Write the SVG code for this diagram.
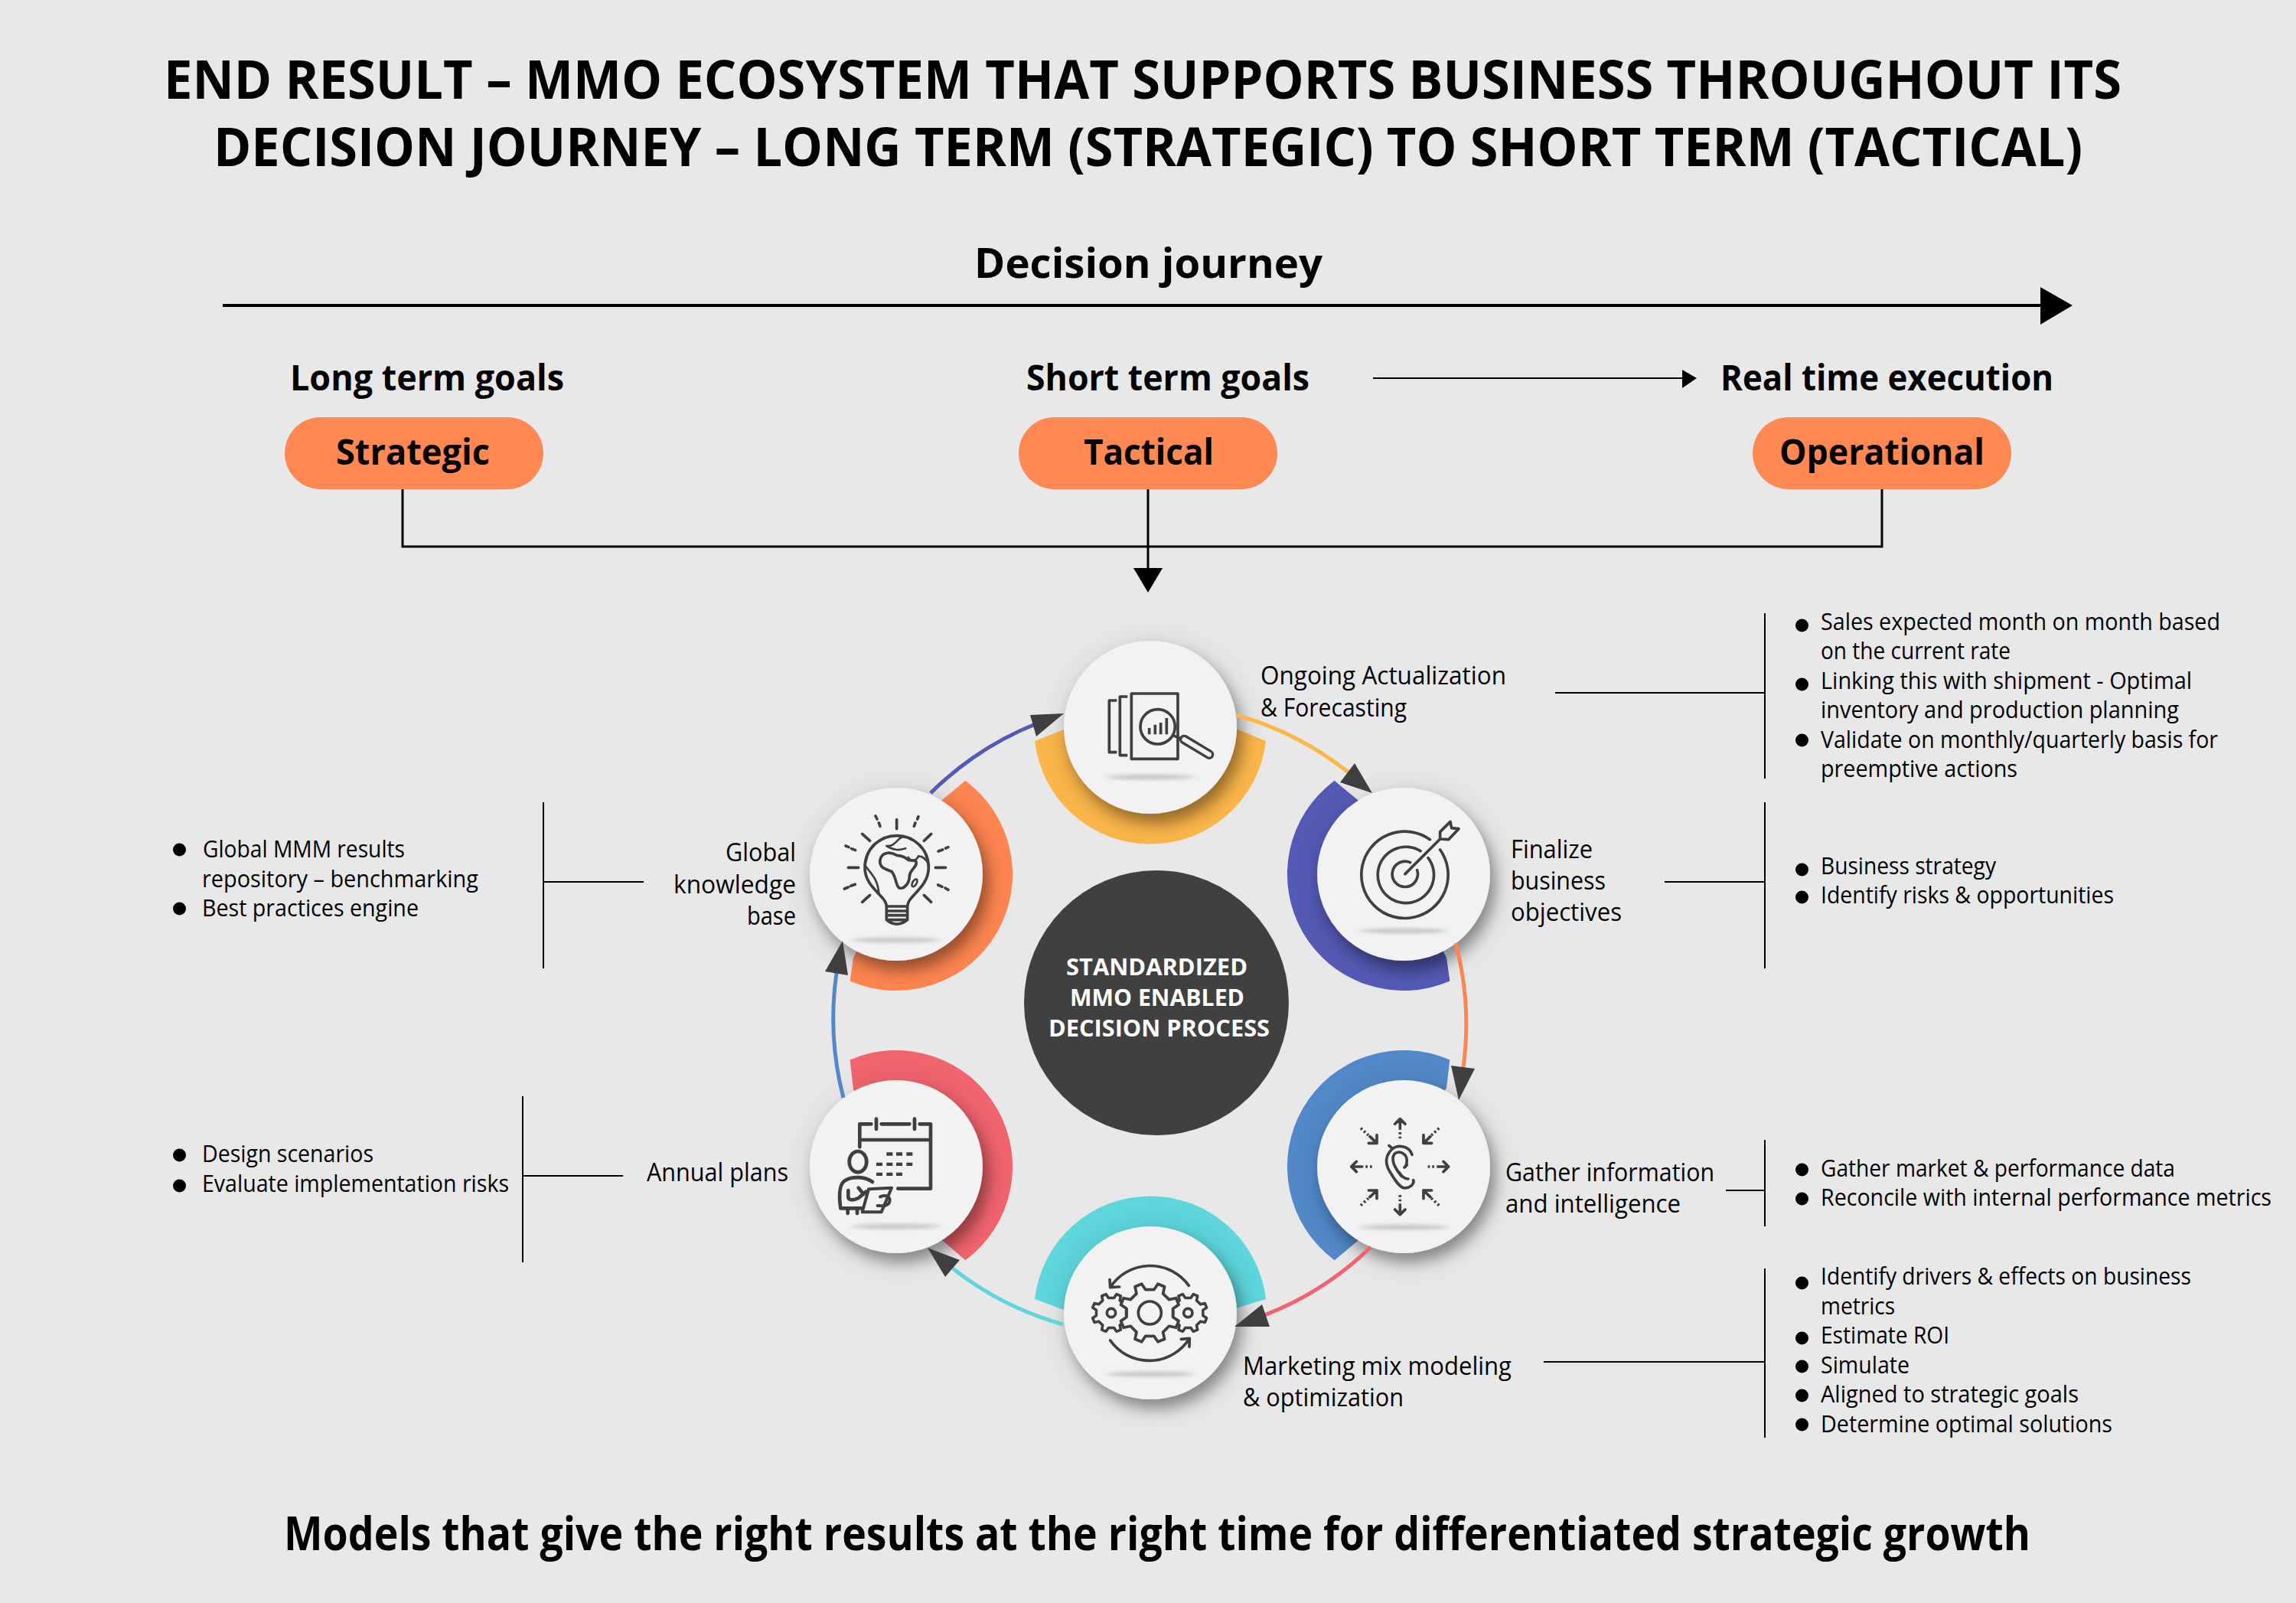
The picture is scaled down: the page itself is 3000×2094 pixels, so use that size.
<svg xmlns="http://www.w3.org/2000/svg" width="3000" height="2094" viewBox="0 0 3000 2094">
<style>
text{font-family:"Open Sans","Noto Sans","Liberation Sans",sans-serif;fill:#000}
.t{font-size:70px;font-weight:700}
.h{font-size:46px;font-weight:700}
.n{font-size:33px}
.l{font-size:31px}
.c{font-size:31px;font-weight:700;fill:#fff}
.pill{fill:#ff8853}
.disc{fill:#f2f2f2;filter:url(#sh)}
.floor{fill:#c9c9c9;filter:url(#bl)}
.ic{fill:none;stroke:#3f3f3f;stroke-width:11;stroke-linecap:round;stroke-linejoin:round}
.bt{stroke-linecap:butt}
.icf{fill:#f2f2f2;stroke:#3f3f3f;stroke-width:11;stroke-linejoin:round}
.dot{fill:#3f3f3f;stroke:none}
.thin{fill:none;stroke:#000;stroke-width:2}
.med{fill:none;stroke:#000;stroke-width:3}
.arc{fill:none;stroke-width:5}
.head{fill:#3f3f3f}
.b{fill:#000}
</style>
<defs>
<filter id="sh" x="-40%" y="-40%" width="180%" height="180%">
<feGaussianBlur in="SourceAlpha" stdDeviation="22" result="a"/>
<feOffset in="a" dx="4" dy="8" result="a2"/>
<feComponentTransfer in="a2" result="a3"><feFuncA type="linear" slope="0.16"/></feComponentTransfer>
<feGaussianBlur in="SourceAlpha" stdDeviation="9" result="b"/>
<feOffset in="b" dx="7" dy="12" result="b2"/>
<feComponentTransfer in="b2" result="b3"><feFuncA type="linear" slope="0.34"/></feComponentTransfer>
<feMerge><feMergeNode in="a3"/><feMergeNode in="b3"/><feMergeNode in="SourceGraphic"/></feMerge>
</filter>
<filter id="bl" x="-20%" y="-200%" width="140%" height="500%"><feGaussianBlur stdDeviation="5 2"/></filter>
<path id="gear" d="M77 14L96 27L87 49L64 44L44 64L49 87L27 96L14 77L-14 77L-27 96L-49 87L-44 64L-64 44L-87 49L-96 27L-77 14L-77 -14L-96 -27L-87 -49L-64 -44L-44 -64L-49 -87L-27 -96L-14 -77L14 -77L27 -96L49 -87L44 -64L64 -44L87 -49L96 -27L77 -14Z"/>
</defs>
<rect width="3000" height="2094" fill="#e8e8e8"/>

<g id="title">
<text class="t" x="214" y="129" textLength="2558" lengthAdjust="spacingAndGlyphs">END RESULT – MMO ECOSYSTEM THAT SUPPORTS BUSINESS THROUGHOUT ITS</text>
<text class="t" x="279" y="217" textLength="2442" lengthAdjust="spacingAndGlyphs">DECISION JOURNEY – LONG TERM (STRATEGIC) TO SHORT TERM (TACTICAL)</text>
</g>

<g id="journey">
<text x="1273" y="363" font-size="54" font-weight="700" textLength="455" lengthAdjust="spacingAndGlyphs">Decision journey</text>
<text class="h" x="379" y="510" textLength="358" lengthAdjust="spacingAndGlyphs">Long term goals</text>
<text class="h" x="1341" y="510" textLength="370" lengthAdjust="spacingAndGlyphs">Short term goals</text>
<text class="h" x="2248" y="510" textLength="435" lengthAdjust="spacingAndGlyphs">Real time execution</text>
</g>

<g id="pill-strategic"><rect class="pill" x="372" y="545" width="338" height="94" rx="47"/><text class="h" x="439" y="607" textLength="201" lengthAdjust="spacingAndGlyphs">Strategic</text></g>
<g id="pill-tactical"><rect class="pill" x="1331" y="545" width="338" height="94" rx="47"/><text class="h" x="1416" y="607" textLength="170" lengthAdjust="spacingAndGlyphs">Tactical</text></g>
<g id="pill-operational"><rect class="pill" x="2290" y="545" width="338" height="94" rx="47"/><text class="h" x="2325" y="607" textLength="268" lengthAdjust="spacingAndGlyphs">Operational</text></g>

<g id="center-node">
<circle cx="1511" cy="1310" r="173" fill="#404040"/>
<text class="c" x="1393" y="1274" textLength="237" lengthAdjust="spacingAndGlyphs">STANDARDIZED</text>
<text class="c" x="1398" y="1314" textLength="228" lengthAdjust="spacingAndGlyphs">MMO ENABLED</text>
<text class="c" x="1370" y="1354" textLength="289" lengthAdjust="spacingAndGlyphs">DECISION PROCESS</text>
</g>

<g id="node-forecasting">
<path fill="#fcb64a" d="M1352 968A152 152 0 0 0 1654 968L1615 952L1503 950L1390 953Z"/>
<circle class="disc" cx="1503" cy="950" r="113"/>
<ellipse class="floor" cx="1503" cy="1015" rx="58" ry="3.5"/>
<g transform="translate(1380 820) scale(.3333)">
<path class="ic bt" d="M238 285H208V488H238M280 270H250V500H280"/>
<rect class="ic" x="295" y="258" width="182" height="256"/>
<path class="ic" d="M465 425L490 435"/>
<circle class="icf" cx="398" cy="388" r="68"/>
<path class="ic bt" d="M365 393V418M388 380V418M410 372V418M433 354V418"/>
<path d="M502 438L600 497" fill="none" stroke="#3f3f3f" stroke-width="38" stroke-linecap="round"/>
<path d="M502 438L600 497" fill="none" stroke="#f2f2f2" stroke-width="18" stroke-linecap="round"/>
</g>
<text class="n" x="1647" y="894" textLength="321" lengthAdjust="spacingAndGlyphs">Ongoing Actualization</text>
<text class="n" x="1647" y="936" textLength="191" lengthAdjust="spacingAndGlyphs">&amp; Forecasting</text>
</g>

<g id="node-objectives">
<path fill="#5459b5" d="M1743.6 1019.8A152 152 0 0 0 1894.4 1281.5L1890 1251L1834 1142L1774 1045Z"/>
<circle class="disc" cx="1834" cy="1142" r="113"/>
<ellipse class="floor" cx="1834" cy="1216" rx="58" ry="3.5"/>
<g transform="translate(1700 1030) scale(.3333)">
<path class="ic" d="M505 200A170 170 0 1 0 545 240M468 245A110 110 0 1 0 498 272M428 290A50 50 0 1 0 455 320M408 335L545 198"/>
<path class="ic" d="M545 198L545 170L585 130L590 155L618 158L578 200L545 198"/>
</g>
<text class="n" x="1974" y="1121" textLength="107" lengthAdjust="spacingAndGlyphs">Finalize</text>
<text class="n" x="1974" y="1162" textLength="124" lengthAdjust="spacingAndGlyphs">business</text>
<text class="n" x="1974" y="1203" textLength="145" lengthAdjust="spacingAndGlyphs">objectives</text>
</g>

<g id="node-gather">
<path fill="#5288c9" d="M1894.4 1384.5A152 152 0 0 0 1743.6 1646.2L1774 1621L1834 1524L1890 1421Z"/>
<circle class="disc" cx="1834" cy="1524" r="113"/>
<ellipse class="floor" cx="1834" cy="1603" rx="58" ry="3.5"/>
<g transform="translate(1700 1400) scale(.3333)">
<path class="ic" d="M345 290L358 300M435 325C425 290 375 280 350 310C330 335 330 365 350 395C365 420 380 445 400 455C425 460 445 440 440 425M410 372C420 345 415 320 385 315C360 315 355 340 365 365C375 385 380 395 395 410M385 395Q400 420 420 420M405 375L415 365"/>
<path class="ic" d="M388 222V185M368 205L388 185L408 205M388 523V560M368 540L388 560L408 540M238 372H197M217 352L197 372L217 392M537 372H578M558 352L578 372L558 392M270 254L297 280M265 280H297V248M507 254L480 280M480 248V280H512M270 491L297 465M265 465H297V497M507 491L480 465M480 497V465H512"/>
<path class="ic bt" stroke-dasharray="8 9" d="M388 262V226M388 483V519M278 372H242M497 372H533M234 221L264 249M541 221L511 249M234 524L264 496M541 524L511 496"/>
</g>
<text class="n" x="1967" y="1543" textLength="273" lengthAdjust="spacingAndGlyphs">Gather information</text>
<text class="n" x="1967" y="1584" textLength="229" lengthAdjust="spacingAndGlyphs">and intelligence</text>
</g>

<g id="node-modeling">
<path fill="#5dd6dc" d="M1352 1697A152 152 0 0 1 1654 1697L1615 1709L1503 1715L1390 1711Z"/>
<circle class="disc" cx="1503" cy="1715" r="113"/>
<ellipse class="floor" cx="1503" cy="1795" rx="58" ry="3.5"/>
<g transform="translate(1380 1620) scale(.3333)">
<path class="ic" d="M520 178A187 187 0 0 0 212 185M210 155L212 185L248 183M212 393A187 187 0 0 0 523 385M490 388L523 385L522 418"/>
<use href="#gear" class="icf" transform="translate(216 285) scale(.76)" style="stroke-width:14"/>
<use href="#gear" class="icf" transform="translate(517 285) scale(.76)" style="stroke-width:14"/>
<use href="#gear" class="icf" transform="translate(367 285) scale(1.18)" style="stroke-width:9.5"/>
<circle class="icf" cx="367" cy="285" r="45"/>
<circle class="icf" cx="216" cy="285" r="17"/>
<circle class="icf" cx="517" cy="285" r="17"/>
</g>
<text class="n" x="1624" y="1796" textLength="351" lengthAdjust="spacingAndGlyphs">Marketing mix modeling</text>
<text class="n" x="1624" y="1837" textLength="210" lengthAdjust="spacingAndGlyphs">&amp; optimization</text>
</g>

<g id="node-annual">
<path fill="#f1646f" d="M1110.6 1384.5A152 152 0 0 1 1261.4 1646.2L1231 1620L1171 1524L1115 1423Z"/>
<circle class="disc" cx="1171" cy="1524" r="113"/>
<ellipse class="floor" cx="1171" cy="1602" rx="58" ry="3.5"/>
<g transform="translate(1040 1420) scale(.3333)">
<path class="ic" style="stroke-width:14" d="M250 235V145H295M335 145H445M485 145H528V398H400M250 207H528M315 125V165M465 125V165"/>
<path class="dot" d="M355 256h24v13h-24zM393 256h24v13h-24zM433 256h24v13h-24zM315 296h24v13h-24zM355 296h24v13h-24zM393 296h24v13h-24zM433 296h24v13h-24zM315 335h24v13h-24zM355 335h24v13h-24zM393 335h24v13h-24z"/>
<ellipse class="ic" style="stroke-width:14" cx="243" cy="293" rx="34" ry="41"/>
<path class="ic" style="stroke-width:14" d="M300 372C270 350 220 350 195 365C165 380 170 440 175 475H260M205 405V430C205 445 225 445 245 435L275 410M245 395L265 420M203 480V495M240 480V495"/>
<path class="icf" style="stroke-width:12" d="M285 400L375 395L335 490L260 490Z"/>
<path class="ic" style="stroke-width:12" d="M330 430C355 420 375 430 365 455C355 470 335 465 320 465"/>
</g>
<text class="n" x="845" y="1543" textLength="185" lengthAdjust="spacingAndGlyphs">Annual plans</text>
</g>

<g id="node-knowledge">
<path fill="#ff8550" d="M1261.4 1019.8A152 152 0 0 1 1110.6 1281.5L1115 1251L1171 1142L1231 1045Z"/>
<circle class="disc" cx="1171" cy="1142" r="113"/>
<ellipse class="floor" cx="1171" cy="1228" rx="58" ry="3.5"/>
<g transform="translate(1040 1030) scale(.3333)">
<path class="ic" d="M355 462C355 420 270 390 270 310C270 235 330 185 395 185C460 185 520 235 520 310C520 390 437 420 437 462M355 462H437M358 480H437M358 497H437M355 462V515Q395 548 437 515V462M355 515H437"/>
<path class="ic" d="M330 280C335 250 370 245 395 262C410 262 430 270 440 280C450 285 480 275 470 300C455 325 445 325 445 345C445 370 425 395 405 390C390 380 395 350 375 325C350 315 325 310 330 280Z"/>
<path class="ic" style="stroke-width:8" d="M275 285C285 240 300 215 330 205M355 225C390 230 400 190 420 190M355 225C380 240 400 245 430 235M440 270C455 290 470 285 480 265C500 265 515 285 522 300M270 300C290 330 320 350 325 410"/>
<ellipse class="ic" style="stroke-width:8" cx="465" cy="370" rx="8" ry="16" transform="rotate(30 465 370)"/>
<path class="ic" d="M395 122V158M260 178L290 205M530 178L502 205M205 310H245M547 310H587M260 445L290 418M530 445L502 418M312 108L318 120M325 135L330 148M480 110L476 120M468 135L463 148M195 225L207 230M218 236L233 242M597 230L587 234M575 240L558 246M190 393L205 387M215 382L232 376M597 397L585 390M573 385L557 378"/>
</g>
<text class="n" text-anchor="end" x="1040" y="1125" textLength="92" lengthAdjust="spacingAndGlyphs">Global</text>
<text class="n" text-anchor="end" x="1040" y="1167" textLength="160" lengthAdjust="spacingAndGlyphs">knowledge</text>
<text class="n" text-anchor="end" x="1040" y="1208" textLength="64" lengthAdjust="spacingAndGlyphs">base</text>
</g>

<g id="connectors">
<path d="M291 399H2672" fill="none" stroke="#000" stroke-width="4"/>
<path class="b" d="M2666 375L2708 399L2666 424Z"/>
<path class="thin" d="M1794 494H2202"/>
<path class="b" d="M2198 483L2217 494L2198 507Z"/>
<path class="med" d="M526 639V714H2459V639M1500 639V745"/>
<path class="b" d="M1481 742H1519L1500 774Z"/>

<path class="arc" stroke="#5459b5" d="M1216 1036A414 414 0 0 1 1355 945"/>
<path class="arc" stroke="#fcb64a" d="M1615 934A414 414 0 0 1 1762 1009"/>
<path class="arc" stroke="#ff8550" d="M1902 1232A414 414 0 0 1 1912 1394"/>
<path class="arc" stroke="#f1646f" d="M1791 1629A414 414 0 0 1 1652 1718"/>
<path class="arc" stroke="#5dd6dc" d="M1389 1730A414 414 0 0 1 1245 1657"/>
<path class="arc" stroke="#5288c9" d="M1102 1434A414 414 0 0 1 1093 1271"/>
<path class="head" d="M1390 932L1346 934L1354 962Z"/>
<path class="head" d="M1793 1036L1770 997L1751 1022Z"/>
<path class="head" d="M1906 1437L1896 1392L1927 1396Z"/>
<path class="head" d="M1613 1733L1649 1704L1659 1733Z"/>
<path class="head" d="M1212 1630L1254 1646L1235 1668Z"/>
<path class="head" d="M1101 1229L1078 1269L1108 1274Z"/>

<path class="thin" d="M2032 905H2306M2306 801V1017"/>
<path class="thin" d="M2175 1152H2306M2306 1048V1265"/>
<path class="thin" d="M2255 1555H2306M2306 1489V1602"/>
<path class="thin" d="M2017 1779H2306M2306 1657V1878"/>
<path class="thin" d="M841 1152H710M710 1048V1265"/>
<path class="thin" d="M814 1536H683M683 1432V1649"/>
</g>

<g id="list-forecasting">
<circle class="b" cx="2354.5" cy="817" r="8.5"/><circle class="b" cx="2354.5" cy="894" r="8.5"/><circle class="b" cx="2354.5" cy="967" r="8.5"/>
<text class="l" x="2379" y="823" textLength="522" lengthAdjust="spacingAndGlyphs">Sales expected month on month based</text>
<text class="l" x="2379" y="861" textLength="248" lengthAdjust="spacingAndGlyphs">on the current rate</text>
<text class="l" x="2379" y="900" textLength="485" lengthAdjust="spacingAndGlyphs">Linking this with shipment - Optimal</text>
<text class="l" x="2379" y="938" textLength="468" lengthAdjust="spacingAndGlyphs">inventory and production planning</text>
<text class="l" x="2379" y="977" textLength="519" lengthAdjust="spacingAndGlyphs">Validate on monthly/quarterly basis for</text>
<text class="l" x="2379" y="1015" textLength="257" lengthAdjust="spacingAndGlyphs">preemptive actions</text>
</g>
<g id="list-objectives">
<circle class="b" cx="2354.5" cy="1136" r="8.5"/><circle class="b" cx="2354.5" cy="1172" r="8.5"/>
<text class="l" x="2379" y="1142" textLength="229" lengthAdjust="spacingAndGlyphs">Business strategy</text>
<text class="l" x="2379" y="1180" textLength="383" lengthAdjust="spacingAndGlyphs">Identify risks &amp; opportunities</text>
</g>
<g id="list-gather">
<circle class="b" cx="2354.5" cy="1528" r="8.5"/><circle class="b" cx="2354.5" cy="1566" r="8.5"/>
<text class="l" x="2379" y="1537" textLength="463" lengthAdjust="spacingAndGlyphs">Gather market &amp; performance data</text>
<text class="l" x="2379" y="1575" textLength="589" lengthAdjust="spacingAndGlyphs">Reconcile with internal performance metrics</text>
</g>
<g id="list-modeling">
<circle class="b" cx="2354.5" cy="1676" r="8.5"/><circle class="b" cx="2354.5" cy="1748" r="8.5"/><circle class="b" cx="2354.5" cy="1785" r="8.5"/><circle class="b" cx="2354.5" cy="1823" r="8.5"/><circle class="b" cx="2354.5" cy="1861" r="8.5"/>
<text class="l" x="2379" y="1678" textLength="484" lengthAdjust="spacingAndGlyphs">Identify drivers &amp; effects on business</text>
<text class="l" x="2379" y="1717" textLength="97" lengthAdjust="spacingAndGlyphs">metrics</text>
<text class="l" x="2379" y="1755" textLength="168" lengthAdjust="spacingAndGlyphs">Estimate ROI</text>
<text class="l" x="2379" y="1794" textLength="116" lengthAdjust="spacingAndGlyphs">Simulate</text>
<text class="l" x="2379" y="1832" textLength="337" lengthAdjust="spacingAndGlyphs">Aligned to strategic goals</text>
<text class="l" x="2379" y="1871" textLength="381" lengthAdjust="spacingAndGlyphs">Determine optimal solutions</text>
</g>
<g id="list-knowledge">
<circle class="b" cx="234.5" cy="1110" r="8.5"/><circle class="b" cx="234.5" cy="1187" r="8.5"/>
<text class="l" x="265" y="1120" textLength="264" lengthAdjust="spacingAndGlyphs">Global MMM results</text>
<text class="l" x="264" y="1159" textLength="361" lengthAdjust="spacingAndGlyphs">repository – benchmarking</text>
<text class="l" x="264" y="1197" textLength="283" lengthAdjust="spacingAndGlyphs">Best practices engine</text>
</g>
<g id="list-annual">
<circle class="b" cx="234.5" cy="1509" r="8.5"/><circle class="b" cx="234.5" cy="1549" r="8.5"/>
<text class="l" x="264" y="1518" textLength="224" lengthAdjust="spacingAndGlyphs">Design scenarios</text>
<text class="l" x="264" y="1557" textLength="401" lengthAdjust="spacingAndGlyphs">Evaluate implementation risks</text>
</g>
<text id="footer" x="371" y="2025" font-size="60" font-weight="700" textLength="2282" lengthAdjust="spacingAndGlyphs">Models that give the right results at the right time for differentiated strategic growth</text>
</svg>
